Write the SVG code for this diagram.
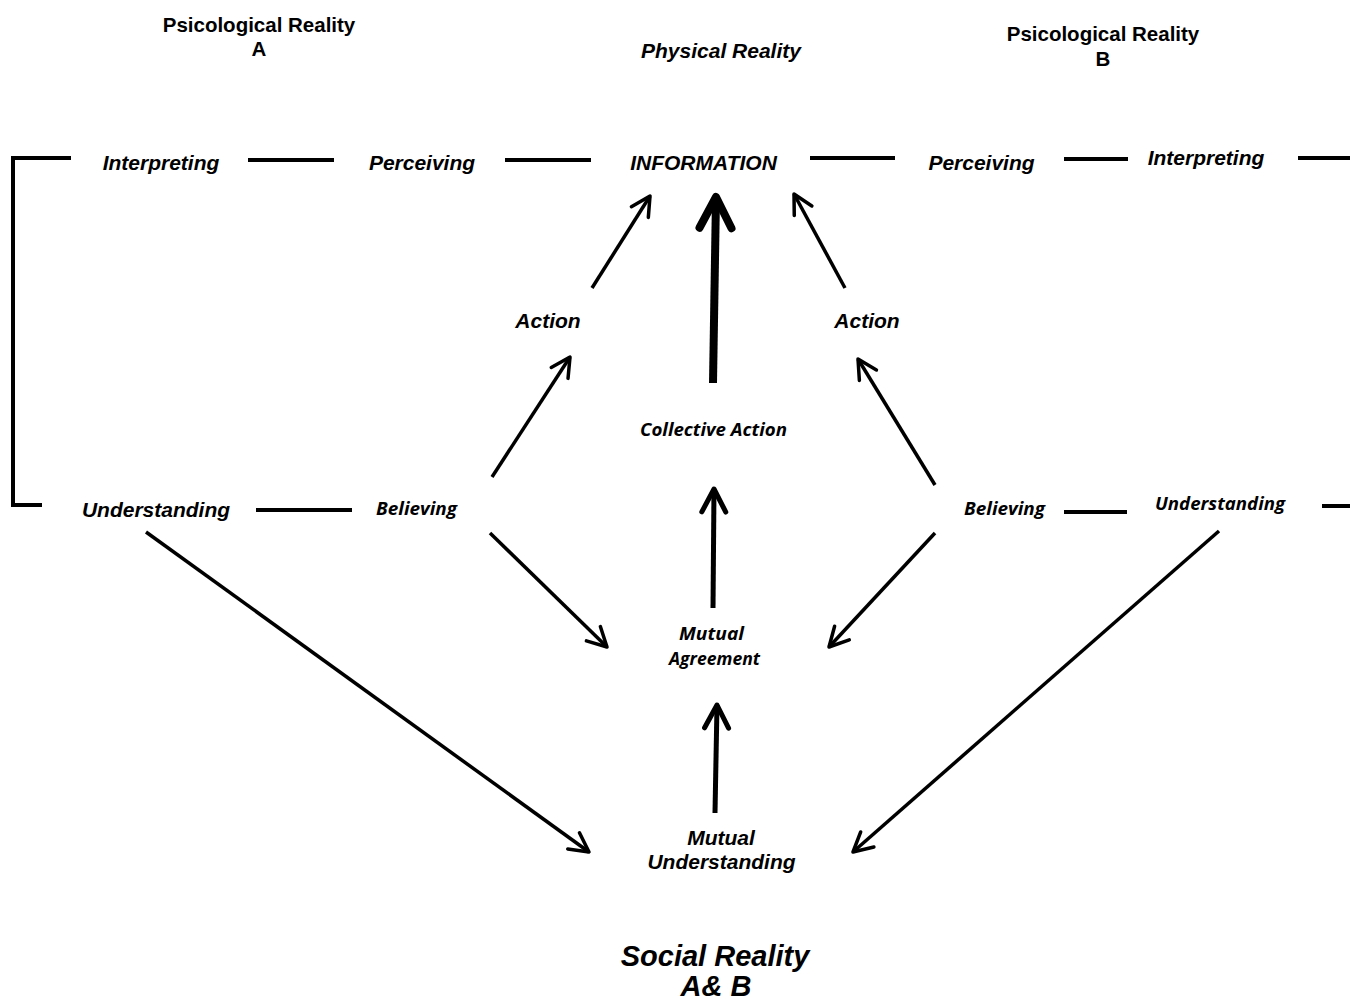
<svg xmlns="http://www.w3.org/2000/svg" width="1350" height="1002" viewBox="0 0 1350 1002">
  <style>
    .arial { font-family: "Liberation Sans", Arial, sans-serif; font-weight: bold; font-style: italic; font-size: 21px; fill: #000; }
    .head { font-family: "Liberation Sans", Arial, sans-serif; font-weight: bold; font-size: 20.5px; fill: #000; }
    .cal { font-family: "Open Sans", Lato, sans-serif; font-weight: bold; font-style: italic; font-size: 17px; fill: #000; }
    .big { font-family: "Liberation Sans", Arial, sans-serif; font-weight: bold; font-style: italic; font-size: 29px; fill: #000; }
    .rule { stroke: #000; stroke-width: 4; fill: none; }
    .thin { stroke: #000; stroke-width: 3.5; fill: none; marker-end: url(#tipThin); }
    .mid { stroke: #000; stroke-width: 5; fill: none; marker-end: url(#tipMid); }
    .thick { stroke: #000; stroke-width: 8; fill: none; marker-end: url(#tipThick); }
  </style>
  <defs>
    <marker id="tipThin" markerUnits="userSpaceOnUse" viewBox="-30 -20 40 40" markerWidth="40" markerHeight="40" refX="0" refY="0" orient="auto" overflow="visible">
      <path d="M-19,-10 L0,0 L-19,10" fill="none" stroke="#000" stroke-width="3.5" stroke-linecap="round" stroke-linejoin="round"/>
    </marker>
    <marker id="tipMid" markerUnits="userSpaceOnUse" viewBox="-30 -20 40 40" markerWidth="40" markerHeight="40" refX="0" refY="0" orient="auto" overflow="visible">
      <path d="M-23,-12 L0,0 L-23,12" fill="none" stroke="#000" stroke-width="5" stroke-linecap="round" stroke-linejoin="round"/>
    </marker>
    <marker id="tipThick" markerUnits="userSpaceOnUse" viewBox="-40 -24 50 48" markerWidth="50" markerHeight="48" refX="0" refY="0" orient="auto" overflow="visible">
      <path d="M-31,-16 L0,0 L-31,16" fill="none" stroke="#000" stroke-width="8" stroke-linecap="round" stroke-linejoin="round"/>
    </marker>
  </defs>
  <rect width="1350" height="1002" fill="#fff"/>

  <!-- headings -->
  <g id="psych-a">
    <text class="head" x="259" y="32" text-anchor="middle">Psicological Reality</text>
    <text class="head" x="259" y="56" text-anchor="middle">A</text>
  </g>
  <g id="physical">
    <text class="arial" x="721" y="58" text-anchor="middle">Physical Reality</text>
  </g>
  <g id="psych-b">
    <text class="head" x="1103" y="41" text-anchor="middle">Psicological Reality</text>
    <text class="head" x="1103" y="66" text-anchor="middle">B</text>
  </g>

  <!-- top row -->
  <g id="interpreting-a"><text class="arial" x="161" y="170" text-anchor="middle">Interpreting</text></g>
  <g id="perceiving-a"><text class="arial" x="422" y="170" text-anchor="middle">Perceiving</text></g>
  <g id="information"><text class="arial" x="703.5" y="170" text-anchor="middle">INFORMATION</text></g>
  <g id="perceiving-b"><text class="arial" x="981.5" y="170" text-anchor="middle">Perceiving</text></g>
  <g id="interpreting-b"><text class="arial" x="1206" y="165" text-anchor="middle">Interpreting</text></g>

  <!-- actions -->
  <g id="action-a"><text class="arial" x="548" y="328" text-anchor="middle">Action</text></g>
  <g id="action-b"><text class="arial" x="867" y="328" text-anchor="middle">Action</text></g>
  <g id="collective-action"><text class="cal" x="713.5" y="436" text-anchor="middle" textLength="147" lengthAdjust="spacingAndGlyphs">Collective Action</text></g>

  <!-- middle row -->
  <g id="understanding-a"><text class="arial" x="156" y="517" text-anchor="middle">Understanding</text></g>
  <g id="believing-a"><text class="cal" x="416.5" y="515" text-anchor="middle" textLength="81" lengthAdjust="spacingAndGlyphs">Believing</text></g>
  <g id="believing-b"><text class="cal" x="1004.5" y="515" text-anchor="middle" textLength="81" lengthAdjust="spacingAndGlyphs">Believing</text></g>
  <g id="understanding-b"><text class="cal" x="1220" y="510" text-anchor="middle" textLength="130" lengthAdjust="spacingAndGlyphs">Understanding</text></g>

  <g id="mutual-agreement">
    <text class="cal" x="711.5" y="640" text-anchor="middle" textLength="65" lengthAdjust="spacingAndGlyphs">Mutual</text>
    <text class="cal" x="714.5" y="665" text-anchor="middle" textLength="91" lengthAdjust="spacingAndGlyphs">Agreement</text>
  </g>
  <g id="mutual-understanding">
    <text class="arial" x="721" y="845" text-anchor="middle">Mutual</text>
    <text class="arial" x="721.5" y="869" text-anchor="middle">Understanding</text>
  </g>
  <g id="social-reality">
    <text class="big" x="715" y="966" text-anchor="middle">Social Reality</text>
    <text class="big" x="716" y="996" text-anchor="middle">A&amp; B</text>
  </g>

  <!-- connectors -->
  <g id="connectors">
    <!-- bracket on the left -->
    <path class="rule" d="M71,158 H13 V505 H42"/>
    <!-- top row links -->
    <line class="rule" x1="248" y1="160" x2="334" y2="160"/>
    <line class="rule" x1="505" y1="160" x2="591" y2="160"/>
    <line class="rule" x1="810" y1="158" x2="895" y2="158"/>
    <line class="rule" x1="1064" y1="159" x2="1128" y2="159"/>
    <line class="rule" x1="1298" y1="158" x2="1350" y2="158"/>
    <!-- middle row links -->
    <line class="rule" x1="256" y1="510" x2="352" y2="510"/>
    <line class="rule" x1="1064" y1="512" x2="1127" y2="512"/>
    <line class="rule" x1="1322" y1="506" x2="1350" y2="506"/>

    <!-- arrows into INFORMATION -->
    <line class="thin" x1="592" y1="288" x2="650" y2="196"/>
    <line class="thick" x1="713" y1="383" x2="716" y2="197"/>
    <line class="thin" x1="845" y1="288" x2="794" y2="194"/>
    <!-- believing to action -->
    <line class="thin" x1="492" y1="477" x2="570" y2="357"/>
    <line class="thin" x1="935" y1="485" x2="858" y2="359"/>
    <!-- central column -->
    <line class="mid" x1="713" y1="608" x2="714" y2="489"/>
    <line class="mid" x1="715" y1="813" x2="717" y2="705"/>
    <!-- believing to mutual agreement -->
    <line class="thin" x1="490" y1="533" x2="607" y2="647"/>
    <line class="thin" x1="935" y1="533" x2="829" y2="647"/>
    <!-- understanding to mutual understanding -->
    <line class="thin" x1="146" y1="532" x2="589" y2="852"/>
    <line class="thin" x1="1219" y1="531" x2="853" y2="852"/>
  </g>
</svg>
